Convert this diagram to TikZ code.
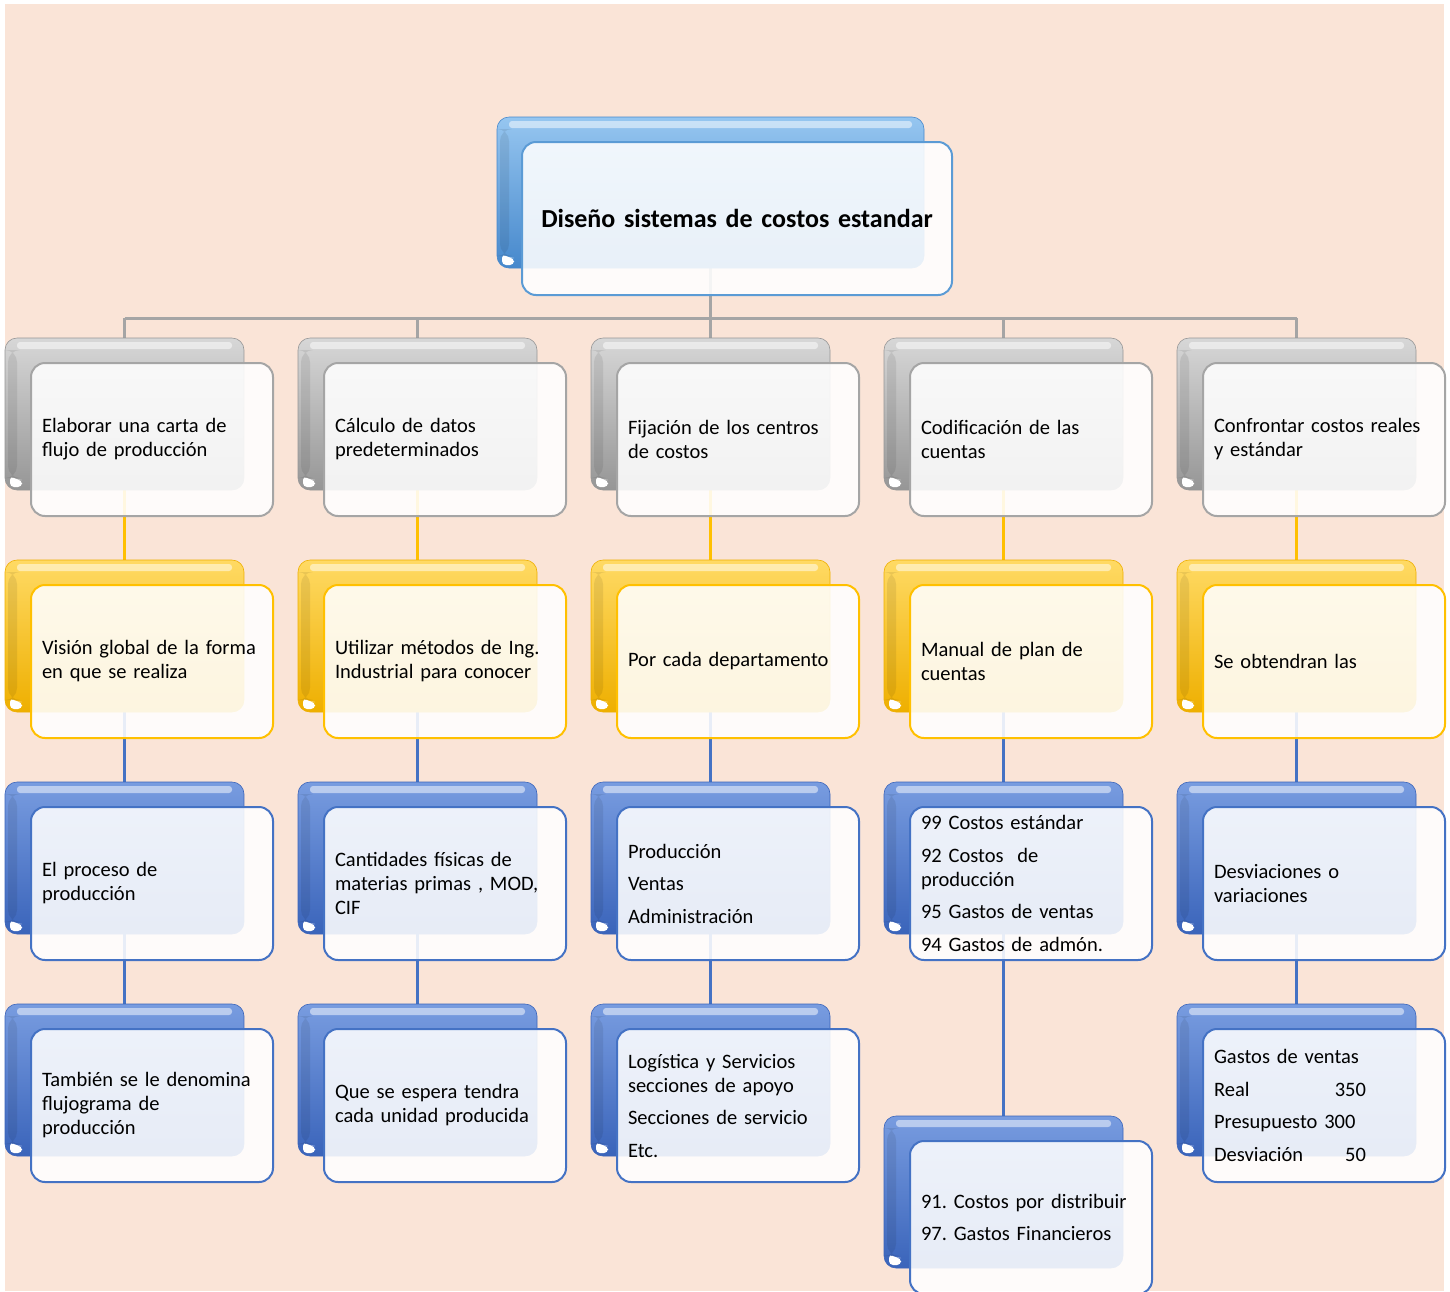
\documentclass[tikz,border=0pt]{standalone}
\usepackage{fontspec}
\setmainfont{Carlito}
\frenchspacing
\pgfdeclarelayer{canvas}
\pgfdeclarelayer{bg}
\pgfsetlayers{canvas,bg,main}

% palette
\definecolor{peach}{RGB}{250,228,215}
\definecolor{gtop}{RGB}{215,215,215}\definecolor{gbot}{RGB}{150,150,150}\definecolor{gline}{RGB}{165,165,165}
\definecolor{ytop}{RGB}{255,218,100}\definecolor{ybot}{RGB}{238,175,0}\definecolor{yline}{RGB}{255,192,0}
\definecolor{btop}{RGB}{120,156,224}\definecolor{bbot}{RGB}{58,100,186}\definecolor{bline}{RGB}{68,114,196}
\definecolor{rtop}{RGB}{150,198,240}\definecolor{rbot}{RGB}{70,136,204}\definecolor{rline}{RGB}{91,155,213}

\tikzset{
  gloss/.style={path picture={
      \fill[white,opacity=.5,rounded corners=3pt]
        ([xshift=12pt,yshift=-4pt]path picture bounding box.north west) rectangle
        ([xshift=-12pt,yshift=-11pt]path picture bounding box.north east);
      \fill[black,opacity=.08]
        ([xshift=3pt,yshift=12pt]path picture bounding box.south west) rectangle
        ([xshift=12pt,yshift=-12pt]path picture bounding box.north west);
      \fill[white,rounded corners=4pt]
        ([xshift=5pt,yshift=3pt]path picture bounding box.south west) -- ++(12pt,0pt)
        -- ++(0pt,7pt) -- ++(-4pt,0pt) -- ++(-8pt,4pt) -- cycle;}},
  backbox/.style={shade, top color=#1top, bottom color=#1bot, draw=#1bot, line width=.6pt,
      rounded corners=12pt, minimum width=239pt, minimum height=152pt, inner sep=0pt, gloss},
  frontbox/.style={draw=#1line, line width=2pt, fill=white, fill opacity=.88, text opacity=1,
      rounded corners=14pt, minimum width=242pt, minimum height=153pt, text width=220pt,
      inner xsep=11pt, inner ysep=0pt, align=left, font=\fontsize{20.5}{24}\selectfont},
  link/.style={line width=3pt, draw=#1line},
}

% one two-layer tile: name, left, top, colour key, text
\newcommand\tile[5]{%
  \node[backbox=#4] (#1-b) at ({#2+119.5},{-(#3+76)}) {};
  \node[frontbox=#4] (#1) at ({#2+147},{-(#3+101.5)}) {#5};}

\begin{document}
\begin{tikzpicture}[x=1pt,y=1pt]
\useasboundingbox (0,0) rectangle (1450,-1291);
\begin{pgfonlayer}{canvas}
  \fill[white] (0,0) rectangle (1450,-1291);
  \fill[peach] (5,-4) rectangle (1444,-1291);
\end{pgfonlayer}

% root
\node[backbox=r, minimum width=427pt, minimum height=151pt] (root-b) at (710.5,-192.5) {};
\node[frontbox=r, minimum width=430pt, text width=408pt, align=center,
      font=\fontsize{26}{30}\selectfont\bfseries] (root) at (737,-218.5) {Diseño sistemas de costos estandar};

% column 1
\tile{a1}{5}{338}{g}{Elaborar una carta de\\flujo de producción}
\tile{a2}{5}{560}{y}{Visión global de la forma\\en que se realiza}
\tile{a3}{5}{782}{b}{El proceso de\\producción}
\tile{a4}{5}{1004}{b}{También se le denomina\\flujograma de\\producción}
% column 2
\tile{b1}{298}{338}{g}{Cálculo de datos\\predeterminados}
\tile{b2}{298}{560}{y}{Utilizar métodos de Ing.\\Industrial para conocer}
\tile{b3}{298}{782}{b}{Cantidades físicas de\\materias primas , MOD,\\CIF}
\tile{b4}{298}{1004}{b}{Que se espera tendra\\cada unidad producida}
% column 3
\tile{c1}{591}{338}{g}{Fijación de los centros\\de costos}
\tile{c2}{591}{560}{y}{Por cada departamento}
\tile{c3}{591}{782}{b}{Producción\\[8.5pt]Ventas\\[8.5pt]Administración}
\tile{c4}{591}{1004}{b}{Logística y Servicios\\secciones de apoyo\\[8.5pt]Secciones de servicio\\[8.5pt]Etc.}
% column 4
\tile{d1}{884}{338}{g}{Codificación de las\\cuentas}
\tile{d2}{884}{560}{y}{Manual de plan de\\cuentas}
\tile{d3}{884}{782}{b}{99 Costos estándar\\[8.5pt]92 Costos\ \ de\\producción\\[8.5pt]95 Gastos de ventas\\[8.5pt]94 Gastos de admón.}
\tile{d4}{884}{1116}{b}{91. Costos por distribuir\\[8.5pt]97. Gastos Financieros}
% column 5
\tile{e1}{1177}{338}{g}{Confrontar costos reales\\y estándar}
\tile{e2}{1177}{560}{y}{Se obtendran las}
\tile{e3}{1177}{782}{b}{Desviaciones o\\variaciones}
\tile{e4}{1177}{1004}{b}{Gastos de ventas\\[8.5pt]\makebox[152pt]{Real\hfill 350}\\[8.5pt]Presupuesto\ 300\\[8.5pt]\makebox[152pt]{Desviación\hfill 50}}

% connectors, kept behind the tiles
\begin{pgfonlayer}{bg}
  \coordinate (bus) at (710.5,-318);
  \draw[link=g] (root-b.center) -- (root-b.center |- bus);
  \draw[link=g] (a1-b.center |- bus) -- (e1-b.center |- bus);
  \foreach \c in {a,b,c,d,e}{
    \draw[link=g] (\c1-b.center |- bus) -- (\c1-b.center);
    \draw[link=y] (\c1-b.center) -- (\c2-b.center);
    \draw[link=b] (\c2-b.center) -- (\c3-b.center);
    \draw[link=b] (\c3-b.center) -- (\c4-b.center);
  }
\end{pgfonlayer}
\end{tikzpicture}
\end{document}
